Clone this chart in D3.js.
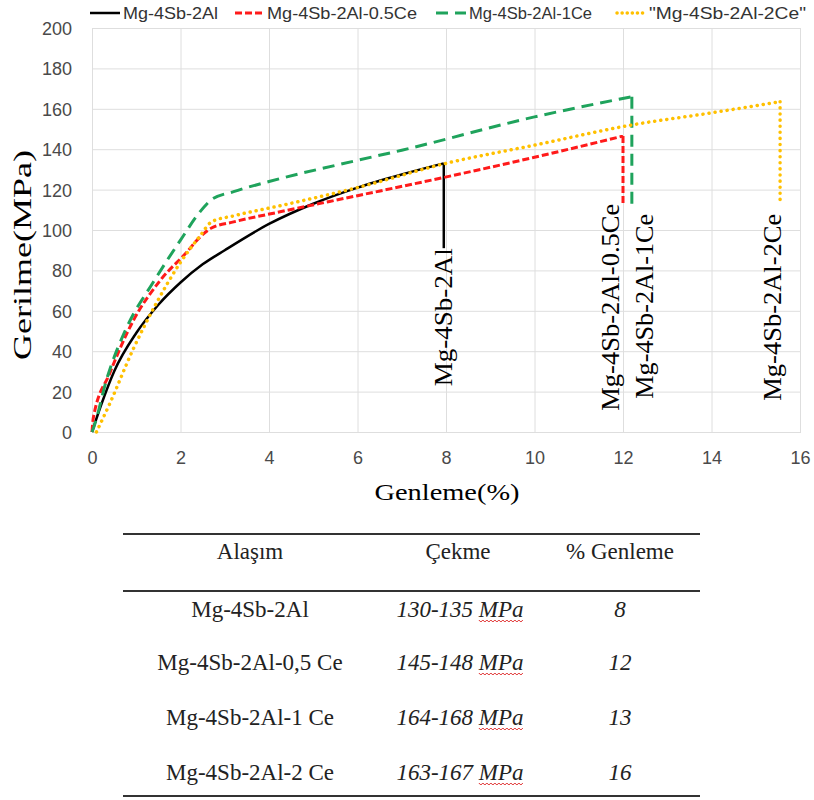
<!DOCTYPE html>
<html><head><meta charset="utf-8">
<script src="https://cdn.jsdelivr.net/npm/d3@7/dist/d3.min.js"></script>
<style>body{margin:0;background:#fff}</style></head>
<body>
<svg id="c" width="814" height="800"></svg>
<script>
// ---------- data ----------
const seriesNames  = ["Mg-4Sb-2Al", "Mg-4Sb-2Al-0.5Ce", "Mg-4Sb-2Al-1Ce", "Mg-4Sb-2Al-2Ce"];
const legendLabels = ["Mg-4Sb-2Al", "Mg-4Sb-2Al-0.5Ce", "Mg-4Sb-2Al-1Ce", "\"Mg-4Sb-2Al-2Ce\""];

const strainAl   = [0, 0.2, 0.5, 1.0, 1.5, 2.0, 2.5, 3.0, 4.0, 5.0, 6.0, 7.0, 7.95];
const stressAl   = [0, 13, 30, 49, 63, 74, 83, 90, 103, 113, 121, 127.5, 133];

const strainCe05 = [0, 0.03, 0.4, 0.93, 1.54, 2.14, 2.44, 2.7, 3.2, 4.25, 6.0, 7.95, 10.0, 12.0];
const stressCe05 = [0, 7, 29, 55, 75, 89, 96.5, 101, 104, 109, 117, 126, 136, 146.5];

const strainCe1  = [0, 0.05, 0.33, 0.79, 1.38, 2.0, 2.44, 2.7, 3.2, 4.0, 6.0, 7.0, 10.0, 12.2];
const stressCe1  = [0, 3, 26, 52, 74, 95, 109, 115, 119, 124, 134.5, 139.5, 156, 166];

const strainCe2  = [0.1, 0.4, 0.93, 1.46, 2.0, 2.44, 2.7, 3.2, 4.25, 6.0, 8.0, 10.0, 12.2, 14.0, 15.55];
const stressCe2  = [0, 14, 41, 64, 84, 97, 104, 107, 112, 121, 133, 142, 152, 158, 163.5];

const failStress = [91, 113, 111, 113];   // end of the vertical drop of each curve

const xTicks = [0, 2, 4, 6, 8, 10, 12, 14, 16];
const yTicks = [0, 20, 40, 60, 80, 100, 120, 140, 160, 180, 200];

const tableHeader   = ["Alaşım", "Çekme", "% Genleme"];
const tableAlloy    = ["Mg-4Sb-2Al", "Mg-4Sb-2Al-0,5 Ce", "Mg-4Sb-2Al-1 Ce", "Mg-4Sb-2Al-2 Ce"];
const tableStrength = ["130-135", "145-148", "164-168", "163-167"];
const tableElong    = ["8", "12", "13", "16"];

// ---------- styles ----------
const colors = ["#000000", "#ff1a1a", "#1fa35c", "#ffc000"];
const dashes = [null, "7,3", "12,7", "0.1,6"];
const widths = [2.5, 3, 3, 3.5];
const caps   = ["butt", "butt", "butt", "round"];
const labelDx  = [0, -13, 13, -8];
const labelGap = [0, 0, 6, 10];
const labelLen = [138, 207, 185, 187];
const legX     = [90, 235, 436, 617];
const legTextX = [123, 267, 469, 649];
const legLen   = [95, 150, 123, 157];
const serif = "'Liberation Serif','Times New Roman',serif";
const sans  = "'Liberation Sans',Arial,sans-serif";

const series = [
  strainAl.map((v, i) => [v, stressAl[i]]),
  strainCe05.map((v, i) => [v, stressCe05[i]]),
  strainCe1.map((v, i) => [v, stressCe1[i]]),
  strainCe2.map((v, i) => [v, stressCe2[i]])
];

const svg = d3.select("#c");
const x = d3.scaleLinear().domain([0, 16]).range([92, 800]);
const y = d3.scaleLinear().domain([0, 200]).range([432, 28]);

// grid + axes
const gx = svg.append("g").attr("transform", "translate(0,432)")
  .call(d3.axisBottom(x).tickValues(xTicks).tickSize(-(432 - 28)).tickPadding(0));
gx.select(".domain").attr("stroke", "#d0d0d0");
gx.selectAll(".tick line").attr("stroke", "#dedede");
gx.selectAll(".tick text").attr("y", 32).attr("dy", 0)
  .attr("font-family", sans).attr("font-size", 18).attr("fill", "#4a4a4a");

const gy = svg.append("g").attr("transform", "translate(92,0)")
  .call(d3.axisLeft(y).tickValues(yTicks).tickSize(-(800 - 92)).tickPadding(0));
gy.select(".domain").attr("stroke", "#dedede");
gy.selectAll(".tick line").attr("stroke", "#dedede");
gy.selectAll(".tick text").attr("x", -20).attr("dy", "0.36em")
  .attr("font-family", sans).attr("font-size", 18).attr("fill", "#4a4a4a");

// curves
const line = d3.line().x(d => x(d[0])).y(d => y(d[1])).curve(d3.curveMonotoneX);
series.forEach((s, i) => {
  const last = s[s.length - 1];
  const drop = [last, [last[0], failStress[i]]];
  [line(s), d3.line().x(d => x(d[0])).y(d => y(d[1]))(drop)].forEach(p => {
    svg.append("path").attr("d", p).attr("fill", "none")
      .attr("stroke", colors[i]).attr("stroke-width", widths[i])
      .attr("stroke-dasharray", dashes[i]).attr("stroke-linecap", caps[i]);
  });
  // rotated end label
  const lx = x(last[0]) + labelDx[i];
  const ly = y(failStress[i]) + labelGap[i];
  svg.append("text").attr("transform", `translate(${lx},${ly}) rotate(-90)`)
    .attr("text-anchor", "end").attr("dominant-baseline", "central")
    .attr("font-family", serif).attr("font-size", 25).attr("fill", "#000")
    .attr("textLength", labelLen[i]).attr("lengthAdjust", "spacingAndGlyphs")
    .text(seriesNames[i]);
});

// legend
legendLabels.forEach((t, i) => {
  const x0 = legX[i], x1 = legTextX[i] - 3;
  svg.append("line").attr("x1", x0).attr("x2", x1).attr("y1", 13).attr("y2", 13)
    .attr("stroke", colors[i]).attr("stroke-width", widths[i])
    .attr("stroke-dasharray", i === 3 ? "0.1,5" : dashes[i])
    .attr("stroke-linecap", caps[i]);
  svg.append("text").attr("x", legTextX[i]).attr("y", 19)
    .attr("font-family", sans).attr("font-size", 17).attr("fill", "#333")
    .attr("textLength", legLen[i]).attr("lengthAdjust", "spacingAndGlyphs").text(t);
});

// axis titles
svg.append("text").attr("transform", "translate(22,255) rotate(-90)")
  .attr("text-anchor", "middle").attr("dominant-baseline", "central")
  .attr("font-family", serif).attr("font-size", 25).attr("fill", "#000")
  .attr("textLength", 210).attr("lengthAdjust", "spacingAndGlyphs").text("Gerilme(MPa)");
svg.append("text").attr("x", 447).attr("y", 500).attr("text-anchor", "middle")
  .attr("font-family", serif).attr("font-size", 24).attr("fill", "#000")
  .attr("textLength", 145).attr("lengthAdjust", "spacingAndGlyphs").text("Genleme(%)");

// ---------- table ----------
const colX = [250, 460, 620];
const rowY = [617, 670, 725, 780];
[534, 591, 796].forEach(yy => svg.append("line").attr("x1", 123).attr("x2", 700)
  .attr("y1", yy).attr("y2", yy).attr("stroke", "#333").attr("stroke-width", 2.2));
tableHeader.forEach((h, i) => svg.append("text").attr("x", colX[i] - (i === 1 ? 2 : 0)).attr("y", 559)
  .attr("text-anchor", "middle").attr("font-family", serif).attr("font-size", 23)
  .attr("fill", "#222").text(h));
tableAlloy.forEach((t, r) => {
  svg.append("text").attr("x", colX[0]).attr("y", rowY[r]).attr("text-anchor", "middle")
    .attr("font-family", serif).attr("font-size", 23).attr("fill", "#222").text(t);
  const st = svg.append("text").attr("x", colX[1]).attr("y", rowY[r]).attr("text-anchor", "middle")
    .attr("font-family", serif).attr("font-size", 23).attr("font-style", "italic").attr("fill", "#222");
  st.append("tspan").text(tableStrength[r] + " ");
  const mp = st.append("tspan").text("MPa");
  const bb = st.node().getBBox();
  const w = mp.node().getComputedTextLength();
  const xe = bb.x + bb.width, xs = xe - w;
  const pts = d3.range(xs, xe, 2).map((v, k) => [v, rowY[r] + 3 + (k % 2 ? 2 : 0)]);
  svg.append("path").attr("d", d3.line()(pts)).attr("fill", "none")
    .attr("stroke", "#e03030").attr("stroke-width", 1);
  svg.append("text").attr("x", colX[2]).attr("y", rowY[r]).attr("text-anchor", "middle")
    .attr("font-family", serif).attr("font-size", 23).attr("font-style", "italic")
    .attr("fill", "#222").text(tableElong[r]);
});
</script>
</body></html>
